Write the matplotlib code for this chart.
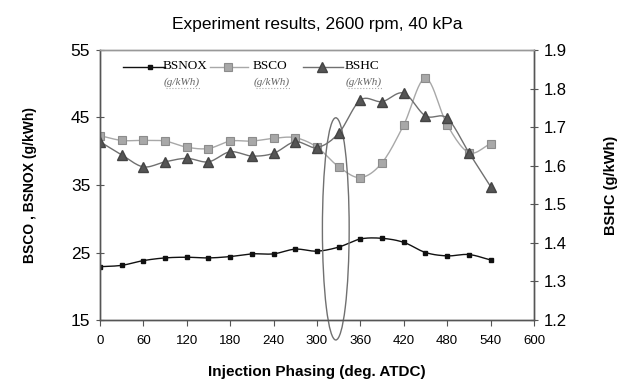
import numpy as np
import matplotlib
matplotlib.use("Agg")
import matplotlib.pyplot as plt
from matplotlib.patches import Ellipse
from matplotlib.lines import Line2D

plt.rcParams['font.family'] = ['Liberation Sans', 'DejaVu Sans']

# injection phasing (deg. ATDC)
phasing = [0, 30, 60, 90, 120, 150, 180, 210, 240, 270, 300,
           330, 360, 390, 420, 450, 480, 510, 540]
bsnox = [22.9, 23.1, 23.8, 24.2, 24.3, 24.2, 24.4, 24.8, 24.8, 25.5, 25.2,
         25.8, 27.0, 27.1, 26.5, 25.0, 24.5, 24.7, 23.9]
bsco = [42.3, 41.6, 41.6, 41.5, 40.6, 40.4, 41.5, 41.5, 41.9, 42.0, 40.6,
        37.7, 36.1, 38.3, 43.9, 50.8, 43.9, 39.8, 41.1]
bshc = [1.662, 1.628, 1.597, 1.610, 1.619, 1.610, 1.636, 1.625, 1.632, 1.662, 1.647,
        1.684, 1.770, 1.766, 1.788, 1.729, 1.723, 1.634, 1.546]

xticks = list(range(0, 601, 60))
left_ticks = [15, 25, 35, 45, 55]
right_ticks = [1.2, 1.3, 1.4, 1.5, 1.6, 1.7, 1.8, 1.9]


def smooth(x, y, n=12):
    # catmull-rom path through the points, like a spreadsheet "smoothed line"
    x = np.asarray(x, float)
    y = np.asarray(y, float)
    px = np.concatenate([[2 * x[0] - x[1]], x, [2 * x[-1] - x[-2]]])
    py = np.concatenate([[2 * y[0] - y[1]], y, [2 * y[-1] - y[-2]]])
    t = np.linspace(0, 1, n, endpoint=False)
    xs, ys = [], []
    for i in range(1, len(px) - 2):
        for arr, out in ((px, xs), (py, ys)):
            p0, p1, p2, p3 = arr[i - 1], arr[i], arr[i + 1], arr[i + 2]
            out.extend(0.5 * (2 * p1 + (-p0 + p2) * t + (2 * p0 - 5 * p1 + 4 * p2 - p3) * t ** 2
                              + (-p0 + 3 * p1 - 3 * p2 + p3) * t ** 3))
    xs.append(x[-1])
    ys.append(y[-1])
    return xs, ys


fig = plt.figure(figsize=(6.23, 3.81), dpi=100)
ax = fig.add_axes([0.1605, 0.160, 0.6966, 0.709])
ax2 = ax.twinx()

spine_col = '#555555'
nox_col = '#111111'
co_col = '#a8a8a8'
hc_col = '#707070'

nox_m = dict(marker='s', ms=3, mfc=nox_col, mec=nox_col)
co_m = dict(marker='s', ms=5.5, mfc='#a8a8a8', mec='#8c8c8c', mew=0.8)
hc_m = dict(marker='^', ms=6.5, mfc='#555555', mec='#444444')

sx, sy = smooth(phasing, bsnox)
ax.plot(sx, sy, color=nox_col, lw=1.0)
ax.plot(phasing, bsnox, ls='none', **nox_m)

sx, sy = smooth(phasing, bsco)
ax.plot(sx, sy, color=co_col, lw=1.0)
ax.plot(phasing, bsco, ls='none', **co_m)

sx, sy = smooth(phasing, bshc)
ax2.plot(sx, sy, color=hc_col, lw=1.0)
ax2.plot(phasing, bshc, ls='none', **hc_m)

ax.set_xlim(0, 600)
ax.set_ylim(15, 55)
ax2.set_ylim(1.2, 1.9)
ax.set_xticks(xticks)
ax.set_yticks(left_ticks)
ax2.set_yticks(right_ticks)
ax2.set_yticklabels(['%.1f' % v for v in right_ticks])

for a in (ax, ax2):
    for s in a.spines.values():
        s.set_color(spine_col)
        s.set_linewidth(1.0)
    a.spines['top'].set_color('#999999')
ax.tick_params(axis='x', direction='out', length=4, color=spine_col, labelsize=9.5, pad=7)
ax.tick_params(axis='y', direction='inout', length=6, color=spine_col, labelsize=12.5, pad=4)
ax2.tick_params(axis='y', direction='inout', length=6, color=spine_col, labelsize=12, pad=4)

ax.set_xlabel('Injection Phasing (deg. ATDC)', fontsize=11, fontweight='bold', labelpad=13)
ax.set_ylabel('BSCO , BSNOX (g/kWh)', fontsize=10, fontweight='bold', labelpad=24)
ax2.set_ylabel('BSHC (g/kWh)', fontsize=10.5, fontweight='bold', labelpad=27)
ax.set_title('Experiment results, 2600 rpm, 40 kPa', fontsize=12.5, pad=15)

# highlighted region around 330 deg
ell = Ellipse((326, 28.5), 37, 32.9, fill=False, ec='#707070', lw=1.0, clip_on=False, zorder=5)
ax.add_patch(ell)

# legend drawn by hand in figure pixels
W, H = 623.0, 381.0
entries = [
    ('BSNOX', 123, 165, 150, nox_col, nox_m, 163),
    ('BSCO', 210, 248, 228, co_col, co_m, 253),
    ('BSHC', 303, 343, 322, hc_col, hc_m, 345),
]
for name, x0, x1, xm, col, mk, xt in entries:
    fig.add_artist(Line2D([x0 / W, x1 / W], [1 - 67 / H, 1 - 67 / H], color=col, lw=1.0))
    fig.add_artist(Line2D([xm / W], [1 - 67 / H], ls='none', **mk))
    fig.text(xt / W, 1 - 66 / H, name, family='Liberation Serif', fontsize=9.5, va='center', ha='left')
    fig.text((xt + 1) / W, 1 - 82 / H, '(g/kWh)', family='Liberation Serif', style='italic',
             fontsize=8, color='#666666', va='center', ha='left')
    fig.add_artist(Line2D([(xt + 3) / W, (xt + 37) / W], [1 - 88 / H, 1 - 88 / H],
                          color='#aaaaaa', lw=0.8, ls=':'))

fig.savefig('out.png', dpi=100)
